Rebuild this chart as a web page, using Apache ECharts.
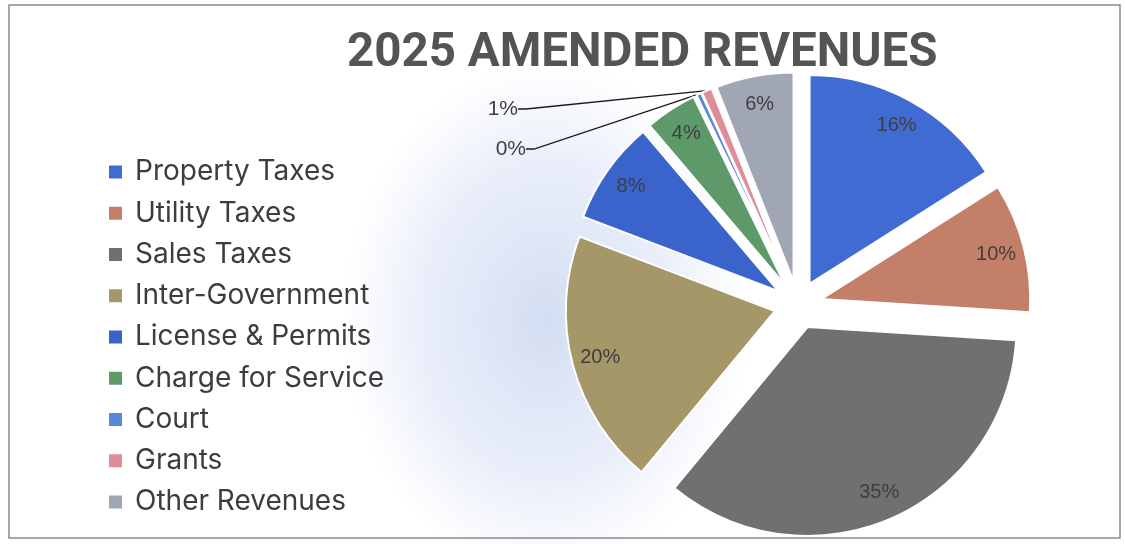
<!DOCTYPE html>
<html>
<head>
<meta charset="utf-8">
<script src="https://cdn.jsdelivr.net/npm/echarts@6/dist/echarts.min.js"></script>
<style>
  html, body { margin: 0; padding: 0; background: #ffffff; }
  #chart { width: 1125px; height: 544px; }
</style>
</head>
<body>
<div id="chart"></div>
<script>
// Revenue categories, their shares (percent of total) and slice colours
const categories = [
  'Property Taxes', 'Utility Taxes', 'Sales Taxes', 'Inter-Government',
  'License & Permits', 'Charge for Service', 'Court', 'Grants', 'Other Revenues'
];
const shares = [16, 10, 35, 19.8, 8, 4, 0.4, 0.8, 6];
const colors = [
  '#3f6bd3', '#c47f69', '#6f716f', '#a59767',
  '#3b63cc', '#5e9a69', '#5a87dc', '#dc8e99', '#a1a6b5'
];
const titleText = '2025 AMENDED REVENUES';

// Thin slices whose labels sit outside, to the left, with leader lines
const outsideLabelSpots = { 6: [529, 149], 7: [521, 109] };

const chart = echarts.init(document.getElementById('chart'), null, { renderer: 'canvas' });

const center = [798, 305];
const outerR = 209;
const explode = 24;

const sliceData = categories.map((name, i) => ({
  name: name,
  value: shares[i],
  selected: true,
  itemStyle: { color: colors[i] }
}));

const labelData = categories.map((name, i) => {
  const item = { name: name, value: shares[i] };
  if (outsideLabelSpots[i]) {
    item.label = { position: 'outside', fontSize: 21, padding: [0, 3, 0, 0] };
    item.labelLine = { show: true, length: 8, length2: 8,
      lineStyle: { color: '#1a1a1a', width: 1.3 } };
  }
  return item;
});

const option = {
  animation: false,
  backgroundColor: '#ffffff',
  title: {
    text: titleText,
    left: 342,
    top: 25,
    textStyle: {
      fontFamily: 'Roboto',
      fontWeight: 'bold',
      fontSize: 47.5,
      color: '#545454'
    }
  },
  legend: {
    orient: 'vertical',
    left: 102,
    top: 153,
    height: 390,
    icon: 'rect',
    itemWidth: 15,
    itemHeight: 15,
    itemGap: 13.25,
    selectedMode: false,
    data: categories,
    textStyle: {
      fontFamily: 'Inter',
      fontSize: 28,
      color: '#3d3d3d',
      padding: [0, 0, 0, 7]
    }
  },
  graphic: [
    {
      // soft bluish wash behind the left half of the pie
      type: 'circle',
      z: -10,
      silent: true,
      x: 545, y: 320,
      scaleX: 0.78,
      shape: { cx: 0, cy: 0, r: 260 },
      style: {
        fill: {
          type: 'radial', x: 0.5, y: 0.5, r: 0.5,
          colorStops: [
            { offset: 0, color: 'rgba(176,194,232,0.55)' },
            { offset: 0.6, color: 'rgba(190,205,238,0.35)' },
            { offset: 1, color: 'rgba(200,212,240,0)' }
          ]
        }
      }
    },
    {
      type: 'rect',
      z: 100,
      silent: true,
      shape: { x: 9, y: 5, width: 1111, height: 533 },
      style: { fill: 'none', stroke: '#8a8a8a', lineWidth: 1.5 }
    }
  ],
  series: [
    {
      type: 'pie',
      center: center,
      radius: [0, outerR],
      startAngle: 90,
      clockwise: true,
      selectedMode: 'multiple',
      selectedOffset: explode,
      avoidLabelOverlap: false,
      label: { show: false },
      labelLine: { show: false },
      itemStyle: { borderColor: '#ffffff', borderWidth: 2 },
      select: { itemStyle: { borderColor: '#ffffff', borderWidth: 2 } },
      emphasis: { disabled: true },
      data: sliceData
    },
    {
      // transparent ring reaching the exploded slice tips; carries the percentage labels
      type: 'pie',
      center: center,
      radius: [170, outerR + explode],
      startAngle: 90,
      clockwise: true,
      silent: true,
      selectedMode: false,
      avoidLabelOverlap: false,
      percentPrecision: 0,
      itemStyle: { color: 'rgba(0,0,0,0)', borderWidth: 0 },
      emphasis: { disabled: true },
      label: {
        show: true,
        position: 'inside',
        formatter: '{d}%',
        fontFamily: 'Liberation Sans',
        fontSize: 20,
        color: '#3e3e3e'
      },
      labelLine: { show: false },
      labelLayout: function (params) {
        const spot = outsideLabelSpots[params.dataIndex];
        if (spot) {
          return { x: spot[0], y: spot[1], align: 'right', verticalAlign: 'middle' };
        }
        return {};
      },
      data: labelData
    }
  ]
};

chart.setOption(option);
</script>
</body>
</html>
